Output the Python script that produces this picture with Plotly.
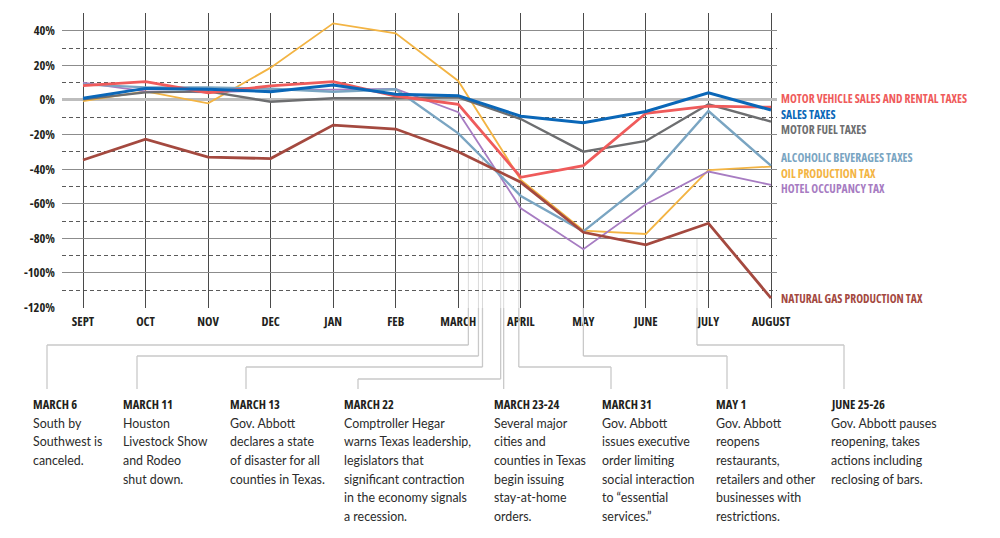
import plotly.graph_objects as go

# ---------------- data ----------------
months = ["SEPT", "OCT", "NOV", "DEC", "JAN", "FEB", "MARCH", "APRIL", "MAY", "JUNE", "JULY", "AUGUST"]

motor_vehicle = [8.3, 10.6, 4.2, 8.1, 10.6, 2.3, -2.5, -44.7, -38.0, -7.7, -3.5, -4.2]
sales = [1.0, 6.7, 6.2, 4.8, 8.7, 3.3, 2.5, -9.4, -13.1, -6.7, 4.2, -5.8]
motor_fuel = [0.4, 4.4, 5.0, -1.0, 1.0, 1.0, 1.5, -11.0, -29.9, -23.7, -2.5, -12.5]
alcoholic = [9.0, 7.3, 7.3, 6.5, 4.8, 6.2, -19.3, -55.5, -76.0, -47.2, -6.4, -38.0]
oil = [-0.6, 5.0, -1.9, 18.7, 44.3, 38.5, 11.0, -46.2, -75.5, -77.5, -40.5, -38.5]
hotel = [10.0, 5.0, 4.4, 5.5, 6.0, 6.4, -7.1, -62.6, -86.3, -60.3, -41.4, -49.1]
nat_gas = [-34.7, -22.7, -33.0, -33.9, -14.5, -16.8, -29.9, -47.6, -76.5, -83.8, -71.3, -114.6]

series_names = [
    "MOTOR VEHICLE SALES AND RENTAL TAXES", "SALES TAXES", "MOTOR FUEL TAXES",
    "ALCOHOLIC BEVERAGES TAXES", "OIL PRODUCTION TAX", "HOTEL OCCUPANCY TAX",
    "NATURAL GAS PRODUCTION TAX",
]

y_ticks = [-120, -100, -80, -60, -40, -20, 0, 20, 40]

# timeline events: (month index, day, days in month) -> position on the month axis
event_titles = ["MARCH 6", "MARCH 11", "MARCH 13", "MARCH 22", "MARCH 23-24", "MARCH 31", "MAY 1", "JUNE 25-26"]
event_month = [6, 6, 6, 6, 6, 6, 8, 9]
event_day = [6, 11, 13, 22, 23.5, 31, 1, 25.5]
event_days_in_month = [31, 31, 31, 31, 31, 31, 31, 30]
event_texts = [
    ["South by", "Southwest is", "canceled."],
    ["Houston", "Livestock Show", "and Rodeo", "shut down."],
    ["Gov. Abbott", "declares a state", "of disaster for all", "counties in Texas."],
    ["Comptroller Hegar", "warns Texas leadership,", "legislators that", "significant contraction",
     "in the economy signals", "a recession."],
    ["Several major", "cities and", "counties in Texas", "begin issuing", "stay-at-home", "orders."],
    ["Gov. Abbott", "issues executive", "order limiting", "social interaction", "to \u201cessential",
     "services.\u201d"],
    ["Gov. Abbott", "reopens", "restaurants,", "retailers and other", "businesses with", "restrictions."],
    ["Gov. Abbott pauses", "reopening, takes", "actions including", "reclosing of bars."],
]

# ---------------- styles / layout ----------------
OFF = 8  # page body margin
W, H = 1000 - 2 * OFF, 538 - 2 * OFF
ML, MT = 62 - OFF, 13 - OFF
PW, PH = 715, 295
MR, MB = W - ML - PW, H - MT - PH
XR = [-0.336, 11.096]
YR = [-120.3, 50.3]

colors = ["#ef5b5b", "#0a67b8", "#6d6e70", "#7aa5c2", "#f3b443", "#a77cc2", "#a4493f"]
widths = [2.8, 3.0, 2.4, 2.4, 1.8, 1.8, 2.8]
label_y = [0.7, -8.4, -17.0, -33.5, -42.6, -51.3, -114.8]
draw_order = [4, 5, 3, 2, 6, 0, 1]

BODY = "Lato, Open Sans, sans-serif"


def cond(txt):
    return '<span style="font-family:Open Sans;font-stretch:condensed;font-weight:bold">%s</span>' % txt


def px_x(pix):
    return (pix - OFF - ML) / PW


def px_y(pix):
    return (MT + PH - (pix - OFF)) / PH


def data_to_pix_x(v):
    return OFF + ML + (v - XR[0]) / (XR[1] - XR[0]) * PW


series = [motor_vehicle, sales, motor_fuel, alcoholic, oil, hotel, nat_gas]
xs = list(range(len(months)))

fig = go.Figure()
for i in draw_order:
    fig.add_trace(go.Scatter(
        x=xs, y=series[i], mode="lines", name=series_names[i],
        line=dict(color=colors[i], width=widths[i]), hoverinfo="skip", showlegend=False,
    ))

annotations = []
for i, name in enumerate(series_names):
    annotations.append(dict(
        x=11, y=label_y[i], xref="x", yref="y", xshift=9, xanchor="left", yanchor="middle",
        text=cond(name), showarrow=False, borderpad=0,
        font=dict(size=11.6, color=colors[i]),
    ))

# event timeline
text_left = [31, 121, 228, 342, 492, 600, 714, 829]
drop_offset = [16, 16, 18, 16, 14, 11, 13, 15]
hline_y = [345, 356, 367, 379, None, 367, 356, 345]
in_plot_start = [-33, -33, -33, -33, -33, -33, -84, -80]
drop_bottom = 389
head_y = 404
line0_y = 423
line_step = 18.7

shapes = []
conn = "#c9c9c9"
for k in range(len(event_titles)):
    ex = event_month[k] + (event_day[k] - 1) / event_days_in_month[k]
    ex_pix = data_to_pix_x(ex)
    dx_pix = text_left[k] + drop_offset[k]
    shapes.append(dict(type="line", xref="x", yref="y", x0=ex, x1=ex, y0=in_plot_start[k], y1=YR[0],
                       line=dict(color="rgba(185,185,185,0.55)", width=1), layer="below"))
    if hline_y[k] is None:
        shapes.append(dict(type="line", xref="paper", yref="paper", x0=px_x(ex_pix), x1=px_x(ex_pix),
                           y0=0, y1=px_y(drop_bottom), line=dict(color=conn, width=1.3)))
    else:
        shapes.append(dict(type="line", xref="paper", yref="paper", x0=px_x(ex_pix), x1=px_x(ex_pix),
                           y0=0, y1=px_y(hline_y[k]), line=dict(color=conn, width=1.3)))
        shapes.append(dict(type="line", xref="paper", yref="paper", x0=px_x(ex_pix), x1=px_x(dx_pix),
                           y0=px_y(hline_y[k]), y1=px_y(hline_y[k]), line=dict(color=conn, width=1.3)))
        shapes.append(dict(type="line", xref="paper", yref="paper", x0=px_x(dx_pix), x1=px_x(dx_pix),
                           y0=px_y(hline_y[k]), y1=px_y(drop_bottom), line=dict(color=conn, width=1.3)))
    annotations.append(dict(
        x=px_x(text_left[k]), y=px_y(head_y), xref="paper", yref="paper", xanchor="left", yanchor="middle",
        text=cond(event_titles[k]), showarrow=False,
        font=dict(size=12.5, color="#231f20"),
    ))
    for j, line in enumerate(event_texts[k]):
        annotations.append(dict(
            x=px_x(text_left[k]), y=px_y(line0_y + j * line_step), xref="paper", yref="paper",
            xanchor="left", yanchor="middle", text=line, showarrow=False,
            font=dict(family=BODY, size=12.4, color="#2b2b2b"),
        ))

fig.update_layout(
    width=W, height=H, margin=dict(l=ML, r=MR, t=MT, b=MB, autoexpand=False),
    paper_bgcolor="white", plot_bgcolor="white",
    annotations=annotations, shapes=shapes, showlegend=False,
    xaxis=dict(
        range=XR, tickvals=xs, ticktext=[cond(m) for m in months],
        showgrid=True, gridcolor="#4a4a4a", gridwidth=1.4,
        zeroline=False, showline=False, ticks="", ticklabelstandoff=4, automargin=False,
        tickfont=dict(size=12.5, color="#231f20"),
    ),
    yaxis=dict(
        range=YR, tickvals=y_ticks, ticktext=[cond("%d%%" % v) for v in y_ticks],
        showgrid=True, gridcolor="#8c8c8c", gridwidth=1.2, automargin=False,
        zeroline=True, zerolinecolor="#bdbdbd", zerolinewidth=2.5, showline=False, ticks="",
        ticklabelstandoff=6,
        tickfont=dict(size=12.5, color="#231f20"),
        minor=dict(dtick=10, tick0=0, showgrid=True, gridcolor="#5a5a5a", gridwidth=1, griddash="4px,3px"),
    ),
)

fig.write_html("out.html")
